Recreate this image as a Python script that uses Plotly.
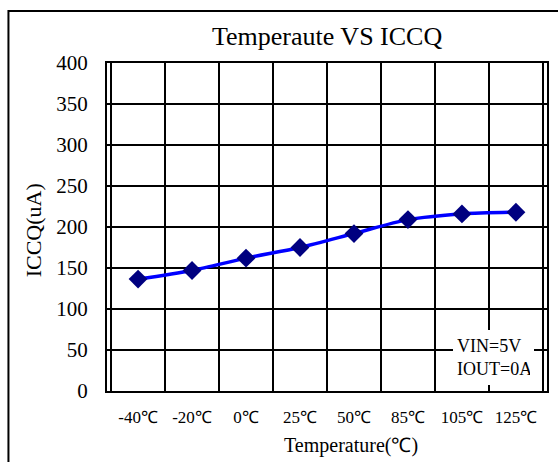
import plotly.graph_objects as go

categories = ["-40℃", "-20℃", "0℃", "25℃", "50℃", "85℃", "105℃", "125℃"]
iccq_ua = [136.5, 147, 162, 175, 192, 209, 216, 218]
y_ticks = [0, 50, 100, 150, 200, 250, 300, 350, 400]

W, H = 558, 462
L, R, T, B = 107, 9, 63, 71
pw, ph = W - L - R, H - T - B

def px(x):
    return (x - L) / pw

def py(y):
    return (H - B - y) / ph

serif = "Liberation Serif, Times New Roman, serif"

fig = go.Figure()
fig.add_trace(go.Scatter(
    x=categories, y=iccq_ua, mode="lines+markers",
    line=dict(color="#0000FF", width=3.5, shape="spline", smoothing=0.8),
    marker=dict(symbol="diamond", size=14.5, color="#000080"),
    showlegend=False, cliponaxis=False,
))

fig.update_layout(
    width=W, height=H,
    margin=dict(l=L, r=R, t=T, b=B),
    paper_bgcolor="white", plot_bgcolor="white",
    font=dict(family=serif, color="black"),
    xaxis=dict(
        type="category", tickson="boundaries", showgrid=True,
        gridcolor="black", gridwidth=1.8,
        showline=True, linecolor="black", linewidth=2, mirror=True,
        ticks="", ticklabelstandoff=10,
        tickfont=dict(family=serif, size=17, color="black"),
        zeroline=False,
    ),
    yaxis=dict(
        range=[0, 400], tickvals=y_ticks, showgrid=True,
        gridcolor="black", gridwidth=1.8,
        showline=True, linecolor="black", linewidth=2, mirror=True,
        ticks="outside", ticklen=13, tickcolor="rgba(0,0,0,0)",
        tickfont=dict(family=serif, size=21, color="black"),
        zeroline=False,
    ),
)

fig.add_annotation(text="Temperaute VS ICCQ", xref="paper", yref="paper",
                   x=0.5, y=py(36), xanchor="center", yanchor="middle",
                   showarrow=False, font=dict(family=serif, size=26, color="black"))
fig.add_annotation(text="Temperature(℃)", xref="paper", yref="paper",
                   x=px(352), y=py(445), xanchor="center", yanchor="middle",
                   showarrow=False, font=dict(family=serif, size=20, color="black"))
fig.add_annotation(text="ICCQ(uA)", xref="paper", yref="paper",
                   x=px(33), y=py(230), xanchor="center", yanchor="middle",
                   textangle=-90, showarrow=False,
                   font=dict(family=serif, size=22, color="black"))
fig.add_annotation(text="VIN=5V<br>IOUT=0A", xref="paper", yref="paper",
                   x=px(495.5), y=py(357.5), xanchor="center", yanchor="middle",
                   showarrow=False, align="left", bgcolor="white",
                   width=73, height=47, borderpad=4, borderwidth=0,
                   font=dict(family=serif, size=18, color="black"))

fig.add_shape(type="rect", xref="paper", yref="paper",
              x0=px(8), x1=1.6, y0=-0.6, y1=py(11),
              line=dict(color="black", width=2), layer="below")

fig.write_html("out.html", config={"displayModeBar": False},
               post_script="document.body.style.margin='0px';document.body.style.padding='0px';")
